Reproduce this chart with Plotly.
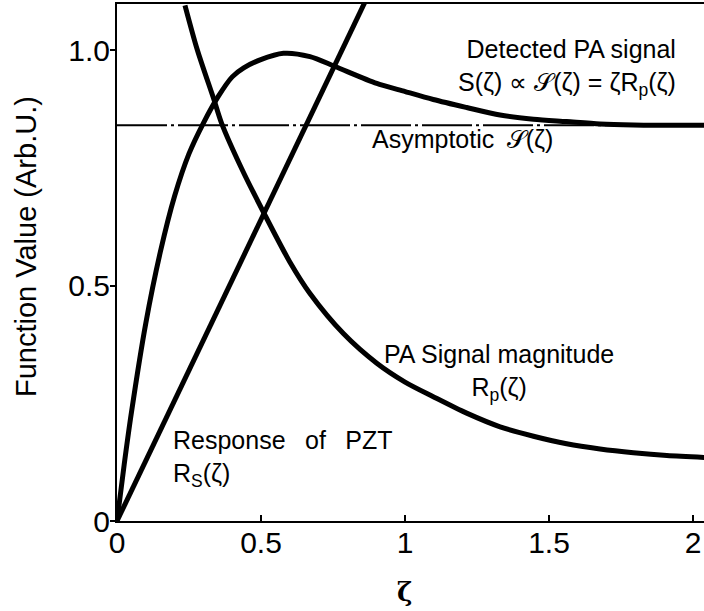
import plotly.graph_objects as go

# --- data ---------------------------------------------------------------
# PA signal magnitude Rp(zeta)
zeta_rp = [0.236, 0.279, 0.337, 0.363, 0.433, 0.510, 0.600, 0.670, 0.786,
           0.902, 1.000, 1.098, 1.214, 1.330, 1.446, 1.561, 1.677, 1.793,
           1.909, 2.040]
rp_vals = [1.095, 1.000, 0.894, 0.845, 0.748, 0.654, 0.550, 0.483, 0.398,
           0.335, 0.295, 0.264, 0.229, 0.200, 0.180, 0.164, 0.153, 0.145,
           0.139, 0.135]

# Detected PA signal S(zeta) ~ zeta * Rp(zeta)
zeta_s = [0.0, 0.025, 0.050, 0.100, 0.150, 0.200, 0.250, 0.300, 0.350,
          0.400, 0.440, 0.497, 0.578, 0.670, 0.757, 0.902, 0.983, 1.098,
          1.214, 1.330, 1.446, 1.561, 1.677, 1.793, 2.040]
s_vals = [0.0, 0.120, 0.230, 0.420, 0.570, 0.690, 0.780, 0.845, 0.900,
          0.943, 0.962, 0.979, 0.993, 0.986, 0.965, 0.929, 0.915, 0.895,
          0.878, 0.862, 0.853, 0.848, 0.843, 0.841, 0.840]

# Response of PZT Rs(zeta), a straight line through the origin
zeta_rs = [0.0, 0.90]
rs_vals = [0.0, 1.152]

# Asymptotic level of S(zeta)
zeta_asym = [0.0, 2.04]
asym_vals = [0.84, 0.84]

x_ticks = [0, 0.5, 1, 1.5, 2]
x_tick_text = ["0", "0.5", "1", "1.5", "2"]
y_ticks = [0, 0.5, 1.0]
y_tick_text = ["0", "0.5", "1.0"]

FONT = "Liberation Sans, Arial, sans-serif"
INK = "#000000"

fig = go.Figure()

fig.add_trace(go.Scatter(x=zeta_asym, y=asym_vals, mode="lines",
                         line=dict(color=INK, width=2, dash="50px,4px,3px,4px"),
                         hoverinfo="skip"))
fig.add_trace(go.Scatter(x=zeta_rs, y=rs_vals, mode="lines",
                         line=dict(color=INK, width=5), hoverinfo="skip"))
fig.add_trace(go.Scatter(x=zeta_rp, y=rp_vals, mode="lines",
                         line=dict(color=INK, width=5, shape="spline",
                                   smoothing=0.8),
                         hoverinfo="skip"))
fig.add_trace(go.Scatter(x=zeta_s, y=s_vals, mode="lines",
                         line=dict(color=INK, width=5, shape="spline",
                                   smoothing=0.8),
                         hoverinfo="skip"))

label_font = dict(family=FONT, size=25, color=INK)

fig.add_annotation(x=1.948, y=1.037, xref="x", yref="y",
                   text="Detected PA signal<br>S(ζ) ∝ 𝒮(ζ) = ζR<sub>p</sub>(ζ)",
                   showarrow=False, xanchor="right", yanchor="top",
                   align="right", font=label_font)
fig.add_annotation(x=0.880, y=0.811, xref="x", yref="y",
                   text="Asymptotic\u2002𝒮(ζ)",
                   showarrow=False, xanchor="left", yanchor="middle",
                   align="left", font=label_font)
fig.add_annotation(x=1.326, y=0.388, xref="x", yref="y",
                   text="PA Signal magnitude<br>R<sub>p</sub>(ζ)",
                   showarrow=False, xanchor="center", yanchor="top",
                   align="center", font=label_font)
fig.add_annotation(x=0.186, y=0.206, xref="x", yref="y",
                   text="Response\u2002 of\u2002 PZT<br>R<sub>S</sub>(ζ)",
                   showarrow=False, xanchor="left", yanchor="top",
                   align="left", font=label_font)

# axis titles
fig.add_annotation(x=-0.155, y=0.53, xref="paper", yref="paper",
                   text="Function Value (Arb.U.)", textangle=-90,
                   showarrow=False, xanchor="center", yanchor="middle",
                   font=dict(family=FONT, size=29, color=INK))
fig.add_annotation(x=0.49, y=-0.138, xref="paper", yref="paper",
                   text="<b>ζ</b>", showarrow=False,
                   xanchor="center", yanchor="middle",
                   font=dict(family="DejaVu Serif, serif", size=26, color=INK))

fig.update_layout(
    width=704, height=611,
    margin=dict(l=117, r=0, t=4, b=90),
    paper_bgcolor="white", plot_bgcolor="white",
    showlegend=False,
    font=dict(family=FONT, color=INK),
)
fig.update_xaxes(range=[0, 2.038], tickvals=x_ticks, ticktext=x_tick_text,
                 ticks="inside", ticklen=6, tickwidth=2, tickcolor=INK,
                 showline=True, linecolor=INK, linewidth=2, mirror=True,
                 showgrid=False, zeroline=False, ticklabelstandoff=-6,
                 tickfont=dict(family=FONT, size=30, color=INK))
fig.update_yaxes(range=[0, 1.0977], tickvals=y_ticks, ticktext=y_tick_text,
                 ticks="outside", ticklen=5, tickwidth=2, tickcolor=INK,
                 showline=True, linecolor=INK, linewidth=2, mirror=False,
                 showgrid=False, zeroline=False, ticklabelstandoff=-6,
                 tickfont=dict(family=FONT, size=30, color=INK))

fig.write_html("out.html")
